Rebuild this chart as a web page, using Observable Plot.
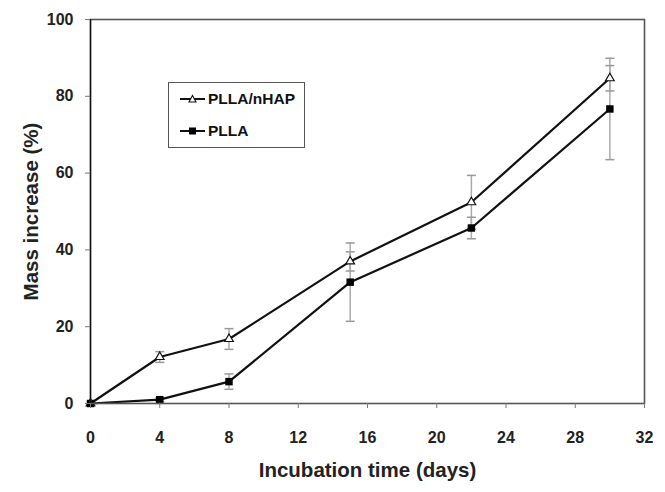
<!DOCTYPE html>
<html>
<head>
<meta charset="utf-8">
<script src="https://cdn.jsdelivr.net/npm/d3@7"></script>
<script src="https://cdn.jsdelivr.net/npm/@observablehq/plot@0.6"></script>
<style>
  body { margin: 0; background: #fff; font-family: "Liberation Sans", Arial, sans-serif; }
  #wrap { position: relative; width: 665px; height: 492px; }
  #legend { position: absolute; left: 168px; top: 82px; width: 135px; height: 64px;
    border: 1.5px solid #555; background: #fff; font-weight: bold; font-size: 15.5px; color: #111; }
  .row { position: absolute; left: 11px; display: flex; align-items: center; }
  .row svg { margin-right: 3px; }
</style>
</head>
<body>
<div id="wrap"></div>
<script>
const days = [0, 4, 8, 15, 22, 30];
const nhap = [0, 12.1, 16.8, 37.0, 52.4, 84.7];
const nhapErr = [0, 1.4, 2.7, 2.5, 7.0, 3.3];
const plla = [0, 1.0, 5.7, 31.6, 45.7, 76.7];
const pllaErr = [0, 0.5, 2.0, 10.2, 2.8, 13.2];
const xTicks = [0, 4, 8, 12, 16, 20, 24, 28, 32];
const yTicks = [0, 20, 40, 60, 80, 100];
const seriesNames = ["PLLA/nHAP", "PLLA"];

const rows = [];
days.forEach((d, i) => {
  rows.push({series: seriesNames[0], day: d, v: nhap[i], e: nhapErr[i]});
  rows.push({series: seriesNames[1], day: d, v: plla[i], e: pllaErr[i]});
});
const errRows = rows.filter(r => r.e > 0);
const caps = errRows.flatMap(r => [{day: r.day, y: r.v + r.e}, {day: r.day, y: r.v - r.e}]);

const capSymbol = { draw(ctx, size) { const w = 4.5; ctx.moveTo(-w, 0); ctx.lineTo(w, 0); } };

const font = "Liberation Sans, Arial, sans-serif";
const chart = Plot.plot({
  width: 665, height: 492,
  marginLeft: 90, marginRight: 21, marginTop: 19, marginBottom: 89,
  style: {fontFamily: font, background: "#fff"},
  x: {domain: [0, 32]},
  y: {domain: [0, 100]},
  marks: [
    Plot.ruleX(errRows, {x: "day", y1: d => d.v - d.e, y2: d => d.v + d.e, stroke: "#aaa", strokeWidth: 1.5}),
    Plot.dot(caps, {x: "day", y: "y", symbol: capSymbol, stroke: "#999", strokeWidth: 1.5, fill: "none"}),
    Plot.line(rows, {x: "day", y: "v", z: "series", stroke: "#111", strokeWidth: 2.2}),
    Plot.dot(rows.filter(r => r.series === seriesNames[0]), {x: "day", y: "v", symbol: "triangle", r: 3.2, fill: "white", stroke: "#111", strokeWidth: 1.2}),
    Plot.dot(rows.filter(r => r.series === seriesNames[1]), {x: "day", y: "v", symbol: "square", r: 4.2, fill: "#000", stroke: "none"}),
    Plot.frame({stroke: "#555", strokeWidth: 1.6}),
    Plot.ruleX([0], {stroke: "#111", strokeWidth: 1.3}),
    Plot.axisX({ticks: xTicks, tickSize: 5, tickPadding: 23, label: null, fontSize: 16, fontWeight: "bold", stroke: "#777", color: "#222"}),
    Plot.axisY({ticks: yTicks, tickSize: 5, tickPadding: 12, label: null, fontSize: 16, fontWeight: "bold", stroke: "#777", color: "#222"}),
    Plot.text(["Incubation time (days)"], {frameAnchor: "bottom", dy: 67, text: d => d, fontSize: 20.5, fontWeight: "bold", fill: "#222", lineAnchor: "middle"}),
    Plot.text(["Mass increase (%)"], {frameAnchor: "left", dx: -59, rotate: -90, text: d => d, fontSize: 20.5, fontWeight: "bold", fill: "#222", lineAnchor: "middle", textAnchor: "middle"})
  ]
});
const wrap = document.getElementById("wrap");
wrap.appendChild(chart);

const legend = document.createElement("div");
legend.id = "legend";
legend.innerHTML = `
  <div class="row" style="top:7px"><svg width="25" height="12"><line x1="0" y1="6" x2="25" y2="6" stroke="#111" stroke-width="2"/><path d="M12.5,2.5 L16,9 L9,9 Z" fill="white" stroke="#111" stroke-width="1.1"/></svg>${seriesNames[0]}</div>
  <div class="row" style="top:39px"><svg width="25" height="12"><line x1="0" y1="6" x2="25" y2="6" stroke="#111" stroke-width="2"/><rect x="9" y="2.5" width="7" height="7" fill="#000"/></svg>${seriesNames[1]}</div>`;
wrap.appendChild(legend);
</script>
</body>
</html>
